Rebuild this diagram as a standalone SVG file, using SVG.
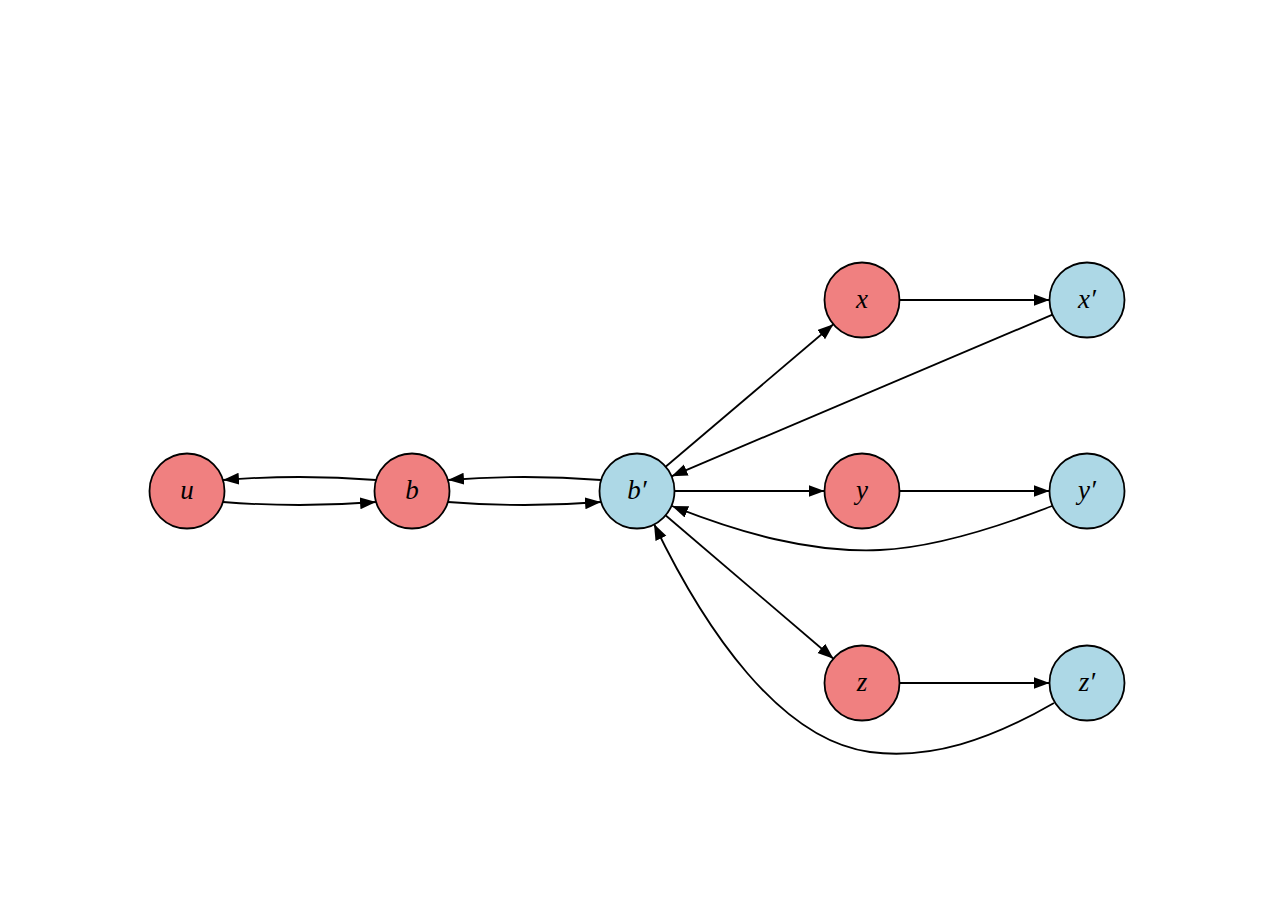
<svg xmlns="http://www.w3.org/2000/svg" width="1275" height="905" viewBox="0 0 1275 905">
<style>
.red{fill:#F08080;stroke:#000;stroke-width:1.8}
.blue{fill:#ADD8E6;stroke:#000;stroke-width:1.8}
.lbl{font-family:"Liberation Serif","Times New Roman",serif;font-style:italic;font-size:27px;text-anchor:middle;fill:#000}
.e{fill:none;stroke:#000;stroke-width:1.8;marker-end:url(#ah)}
</style>
<defs>
<marker id="ah" markerUnits="userSpaceOnUse" markerWidth="17" markerHeight="13" refX="16" refY="6" orient="auto">
<path d="M0,0 L16,6 L0,12 z" fill="#000"/>
</marker>
</defs>
<rect width="1275" height="905" fill="#fff"/>
<g id="edges">
<path class="e" d="M223,502 Q299.5,508 376,502"/>
<path class="e" d="M376,480 Q299.5,474 223,480"/>
<path class="e" d="M448,502 Q524.5,508 601,502"/>
<path class="e" d="M601,480 Q524.5,474 448,480"/>
<path class="e" d="M665.6,466.7 L833.4,324.3"/>
<path class="e" d="M1052.5,314.7 L671.5,476.3"/>
<path class="e" d="M674.5,491 L824.5,491"/>
<path class="e" d="M665.5,515.3 L833.5,658.7"/>
<path class="e" d="M1052,506 C980,534 925,548 880,550 C810,553 740,533 672,506"/>
<path class="e" d="M1054,703 C990,740 930,760 870,752 C780,740 705,630 654,524"/>
<path class="e" d="M899.5,300 L1049.5,300"/>
<path class="e" d="M899.5,491 L1049.5,491"/>
<path class="e" d="M899.5,683 L1049.5,683"/>
</g>
<g id="u"><circle class="red" cx="187" cy="491" r="37.5"/><text class="lbl" x="187" y="499">u</text></g>
<g id="b"><circle class="red" cx="412" cy="491" r="37.5"/><text class="lbl" x="412" y="499">b</text></g>
<g id="bp"><circle class="blue" cx="637" cy="491" r="37.5"/><text class="lbl" x="637" y="499">b′</text></g>
<g id="x"><circle class="red" cx="862" cy="300" r="37.5"/><text class="lbl" x="862" y="308">x</text></g>
<g id="xp"><circle class="blue" cx="1087" cy="300" r="37.5"/><text class="lbl" x="1087" y="308">x′</text></g>
<g id="y"><circle class="red" cx="862" cy="491" r="37.5"/><text class="lbl" x="862" y="499">y</text></g>
<g id="yp"><circle class="blue" cx="1087" cy="491" r="37.5"/><text class="lbl" x="1087" y="499">y′</text></g>
<g id="z"><circle class="red" cx="862" cy="683" r="37.5"/><text class="lbl" x="862" y="691">z</text></g>
<g id="zp"><circle class="blue" cx="1087" cy="683" r="37.5"/><text class="lbl" x="1087" y="691">z′</text></g>
</svg>
